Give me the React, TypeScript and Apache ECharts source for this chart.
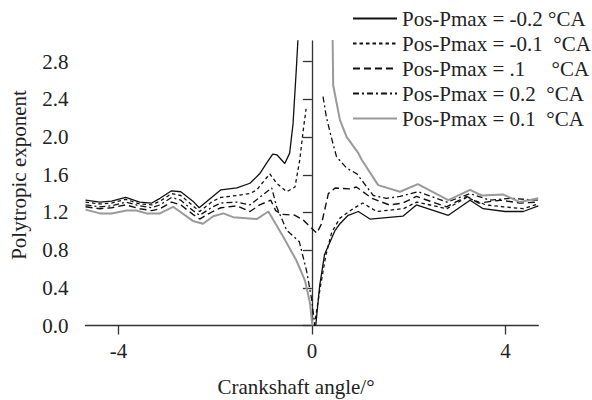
import React, { useEffect, useRef } from "react";
import * as echarts from "echarts";

type Pt = [number, number | string];

const legendNames = [
  "Pos-Pmax = -0.2 °CA",
  "Pos-Pmax = -0.1  °CA",
  "Pos-Pmax = .1     °CA",
  "Pos-Pmax = 0.2  °CA",
  "Pos-Pmax = 0.1  °CA",
];

const yTicks = [0, 0.4, 0.8, 1.2, 1.6, 2.0, 2.4, 2.8];
const xTicks = [-4, 0, 4];

const posNeg02: Pt[] = [
  [-4.68, 1.33], [-4.38, 1.31], [-4.14, 1.32], [-3.85, 1.36], [-3.56, 1.31], [-3.31, 1.3],
  [-3.14, 1.35], [-2.9, 1.43], [-2.71, 1.42], [-2.46, 1.32], [-2.33, 1.25], [-2.05, 1.37],
  [-1.88, 1.44], [-1.55, 1.46], [-1.28, 1.51], [-1.08, 1.61], [-0.94, 1.72], [-0.81, 1.82],
  [-0.72, 1.81], [-0.56, 1.72], [-0.46, 1.83], [-0.39, 2.14], [-0.32, 2.74], [-0.26, 3.3],
  [-0.1, "-"],
  [0.08, 0], [0.16, 0.42], [0.26, 0.75], [0.48, 1.01], [0.58, 1.08], [0.75, 1.17], [0.96, 1.21],
  [1.2, 1.13], [1.88, 1.16], [2.16, 1.28], [2.82, 1.17], [3.27, 1.33], [3.54, 1.24],
  [3.99, 1.21], [4.37, 1.21], [4.68, 1.27],
];

const posNeg01: Pt[] = [
  [-4.68, 1.31], [-4.38, 1.29], [-4.14, 1.3], [-3.85, 1.34], [-3.56, 1.29], [-3.31, 1.28],
  [-3.14, 1.32], [-2.9, 1.4], [-2.71, 1.38], [-2.46, 1.27], [-2.32, 1.21], [-2.05, 1.32],
  [-1.88, 1.36], [-1.55, 1.38], [-1.28, 1.4], [-1.14, 1.44], [-0.87, 1.61], [-0.73, 1.51],
  [-0.52, 1.42], [-0.35, 1.47], [-0.25, 1.76], [-0.18, 2.07], [-0.12, 2.3],
  [-0.05, "-"],
  [0.05, 0], [0.165, 0.38], [0.29, 0.75], [0.41, 0.99], [0.58, 1.14], [0.85, 1.24], [1.05, 1.3],
  [1.34, 1.21], [1.89, 1.24], [2.17, 1.31], [2.79, 1.24], [3.2, 1.36], [3.6, 1.28],
  [3.96, 1.26], [4.37, 1.24], [4.68, 1.29],
];

const posP01dash: Pt[] = [
  [-4.68, 1.26], [-4.38, 1.24], [-4.14, 1.25], [-3.85, 1.28], [-3.56, 1.24], [-3.31, 1.22],
  [-3.14, 1.24], [-2.9, 1.31], [-2.71, 1.28], [-2.46, 1.18], [-2.32, 1.13], [-2.05, 1.21],
  [-1.88, 1.25], [-1.55, 1.27], [-1.28, 1.21], [-1.08, 1.28], [-0.85, 1.33], [-0.75, 1.22],
  [-0.62, 1.18], [-0.35, 1.17], [-0.18, 1.12], [0.1, 0.98], [0.2, 1.08], [0.34, 1.4],
  [0.48, 1.46], [0.78, 1.45], [0.92, 1.47], [1.24, 1.35], [1.6, 1.28], [1.88, 1.3],
  [2.16, 1.37], [2.78, 1.26], [3.2, 1.37], [3.45, 1.3], [3.9, 1.33], [4.3, 1.3], [4.68, 1.31],
];

const posP02: Pt[] = [
  [-4.68, 1.28], [-4.38, 1.26], [-4.14, 1.27], [-3.85, 1.31], [-3.56, 1.27], [-3.31, 1.25],
  [-3.14, 1.28], [-2.9, 1.36], [-2.71, 1.33], [-2.46, 1.22], [-2.32, 1.17], [-2.05, 1.26],
  [-1.88, 1.3], [-1.55, 1.31], [-1.28, 1.28], [-1.08, 1.36], [-0.83, 1.46], [-0.73, 1.26],
  [-0.52, 1.01], [-0.26, 0.89], [-0.11, 0.58], [-0.006, 0.28], [0.06, 0],
  [0.15, "-"],
  [0.23, 2.43], [0.3, 2.21], [0.4, 2.0], [0.51, 1.79], [0.72, 1.67], [0.93, 1.61],
  [1.27, 1.38], [1.54, 1.35], [1.82, 1.37], [2.2, 1.42], [2.79, 1.31], [3.27, 1.4],
  [3.68, 1.33], [4.1, 1.35], [4.68, 1.33],
];

const posP01gray: Pt[] = [
  [-4.68, 1.23], [-4.38, 1.19], [-4.14, 1.19], [-3.83, 1.22], [-3.63, 1.22], [-3.42, 1.19],
  [-3.14, 1.19], [-2.87, 1.26], [-2.46, 1.11], [-2.25, 1.08], [-2.04, 1.16], [-1.83, 1.19],
  [-1.63, 1.15], [-1.14, 1.13], [-0.9, 1.21], [-0.59, 0.94], [-0.32, 0.69], [-0.145, 0.48],
  [-0.04, 0.24], [0.01, 0],
  [0.2, "-"],
  [0.42, 3.4], [0.44, 2.55], [0.58, 2.18], [0.72, 2.0], [0.96, 1.83], [1.03, 1.76],
  [1.37, 1.49], [1.82, 1.42], [2.19, 1.5], [2.82, 1.33], [3.27, 1.44], [3.51, 1.38],
  [3.96, 1.39], [4.3, 1.31], [4.68, 1.35],
];

const FONT = "Liberation Serif";
const TXT = "#222";
const AX = "#333";

export default function App() {
  const ref = useRef<HTMLDivElement>(null);
  useEffect(() => {
    const chart = echarts.init(ref.current!, null, { renderer: "svg" });
    const mk = (name: string, data: Pt[], color: string, width: number, type: any) => ({
      name,
      type: "line",
      data,
      symbol: "none",
      clip: true,
      connectNulls: false,
      itemStyle: { color },
      lineStyle: { color, width, type },
      z: 3,
    });
    chart.setOption({
      animation: false,
      textStyle: { fontFamily: FONT },
      grid: { left: 85.5, right: 53.7, top: 41, bottom: 74.5, containLabel: false },
      legend: {
        orient: "vertical",
        left: 347,
        top: 1,
        itemWidth: 44,
        itemHeight: 14,
        itemGap: 0,
        itemStyle: { opacity: 0 },
        textStyle: { fontFamily: FONT, fontSize: 21, color: TXT, lineHeight: 25 },
        data: legendNames,
      },
      xAxis: {
        type: "value",
        min: -4.68,
        max: 4.68,
        axisLine: { show: true, onZero: false, lineStyle: { color: AX, width: 1.3 } },
        axisTick: { show: true, inside: false, length: 9, customValues: xTicks, lineStyle: { color: AX, width: 1.3 } },
        axisLabel: {
          customValues: xTicks,
          margin: 15,
          fontFamily: FONT,
          fontSize: 21,
          color: TXT,
          formatter: (v: number) => String(v),
        },
        splitLine: { show: false },
      },
      yAxis: {
        type: "value",
        min: 0,
        max: 3.02,
        axisLine: { show: true, lineStyle: { color: AX, width: 1.3 } },
        axisTick: { show: true, inside: false, length: 9, customValues: yTicks, lineStyle: { color: AX, width: 1.3 } },
        axisLabel: {
          customValues: yTicks,
          margin: 17,
          fontFamily: FONT,
          fontSize: 21,
          color: TXT,
          formatter: (v: number) => v.toFixed(1),
        },
        splitLine: { show: false },
      },
      graphic: [
        {
          type: "text",
          x: 296,
          y: 387,
          style: {
            text: "Crankshaft angle/°",
            fontFamily: FONT,
            fontSize: 21,
            fill: TXT,
            textAlign: "center",
            textVerticalAlign: "middle",
          },
        },
        {
          type: "text",
          x: 18.5,
          y: 175,
          rotation: Math.PI / 2,
          style: {
            text: "Polytropic exponent",
            fontFamily: FONT,
            fontSize: 21,
            fill: TXT,
            textAlign: "center",
            textVerticalAlign: "middle",
          },
        },
      ],
      series: [
        mk(legendNames[0], posNeg02, "#111111", 1.3, "solid"),
        mk(legendNames[1], posNeg01, "#111111", 1.3, [3.5, 3]),
        mk(legendNames[2], posP01dash, "#111111", 1.4, [7, 4]),
        mk(legendNames[3], posP02, "#111111", 1.3, [6, 3, 2, 3]),
        mk(legendNames[4], posP01gray, "#9a9a9a", 2, "solid"),
      ],
    });
    return () => chart.dispose();
  }, []);
  return (
    <div
      ref={ref}
      style={{ position: "absolute", left: 0, top: 0, width: 592, height: 400, background: "#fff" }}
    />
  );
}
